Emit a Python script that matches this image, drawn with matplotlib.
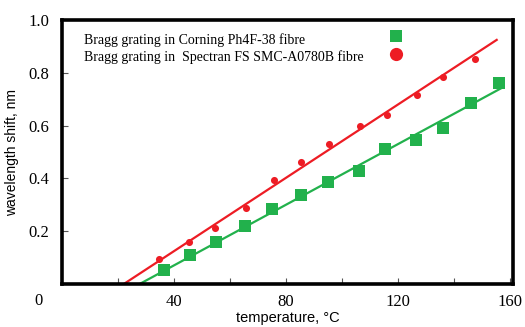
import numpy as np
import matplotlib.pyplot as plt
from matplotlib.lines import Line2D

# temperature, degC / wavelength shift, nm
temp_corning = [36.5, 45.7, 55.0, 65.5, 75.1, 85.4, 95.1, 106.2, 115.5, 126.4, 136.0, 146.0, 156.0]
shift_corning = [0.053, 0.109, 0.159, 0.220, 0.283, 0.337, 0.387, 0.429, 0.512, 0.546, 0.590, 0.685, 0.760]

temp_spectran = [34.6, 45.4, 54.8, 65.7, 75.7, 85.4, 95.5, 106.4, 116.0, 126.8, 136.2, 147.6]
shift_spectran = [0.095, 0.158, 0.213, 0.287, 0.394, 0.464, 0.529, 0.598, 0.640, 0.715, 0.785, 0.851]

# linear fits: slope (nm/degC), intercept (nm), last temperature
fit_corning = (0.00574, -0.1585, 156.8)
fit_spectran = (0.00694, -0.1526, 155.2)

labels = ['Bragg grating in Corning Ph4F-38 fibre',
          'Bragg grating in  Spectran FS SMC-A0780B fibre']

green = '#22b14c'
red = '#ed1c24'
serif = ['Liberation Serif', 'DejaVu Serif']
sans = ['Liberation Sans', 'DejaVu Sans']

fig = plt.figure(figsize=(5.25, 3.27), dpi=100)
ax = fig.add_axes([0.118, 0.131, 0.859, 0.808])

for (a, b, t_end), col in [(fit_corning, green), (fit_spectran, red)]:
    t = np.array([-b / a, t_end])
    ax.plot(t, a * t + b, color=col, lw=1.6, zorder=2)

ax.scatter(temp_corning, shift_corning, marker='s', s=75, color=green, zorder=3, linewidths=0)
ax.scatter(temp_spectran, shift_spectran, marker='o', s=26, color=red, zorder=3, linewidths=0)

ax.set_xlim(0, 161)
ax.set_ylim(0, 1.0)

xt = [20, 40, 60, 80, 100, 120, 140, 160]
ax.set_xticks(xt)
ax.set_xticklabels([str(v) if v % 40 == 0 else '' for v in xt], fontfamily=serif, fontsize=12)
yt = [0.2, 0.4, 0.6, 0.8, 1.0]
ax.set_yticks(yt)
ax.set_yticklabels(['%.1f' % v for v in yt], fontfamily=serif, fontsize=12)
ax.tick_params(direction='in', length=4, width=0.8, color='#555555')
ax.tick_params(axis='x', pad=7)
ax.tick_params(axis='y', pad=9)
ax.text(-0.053, -0.062, '0', transform=ax.transAxes, fontfamily=serif, fontsize=12,
        ha='center', va='center')

for sp in ax.spines.values():
    sp.set_linewidth(2.6)

ax.set_xlabel('temperature, °C', fontfamily=sans, fontsize=10.5, labelpad=1)
ax.set_ylabel('wavelength shift, nm', fontfamily=sans, fontsize=10, labelpad=7)

# legend: left-aligned text, markers in a column on the right
for i, lab in enumerate(labels):
    ax.text(0.05, 0.922 - i * 0.062, lab, transform=ax.transAxes, fontfamily=serif,
            fontsize=10, ha='left', va='center')
handles = [
    Line2D([], [], ls='none', marker='s', ms=8.5, color=green, mew=0),
    Line2D([], [], ls='none', marker='o', ms=9.5, color=red, mew=0),
]
ax.legend(handles, ['', ''], loc='center', bbox_to_anchor=(0.74, 0.9), frameon=False,
          handlelength=0.8, handletextpad=0, labelspacing=0.35, prop={'size': 9.5})

fig.savefig('out.png', dpi=100)
